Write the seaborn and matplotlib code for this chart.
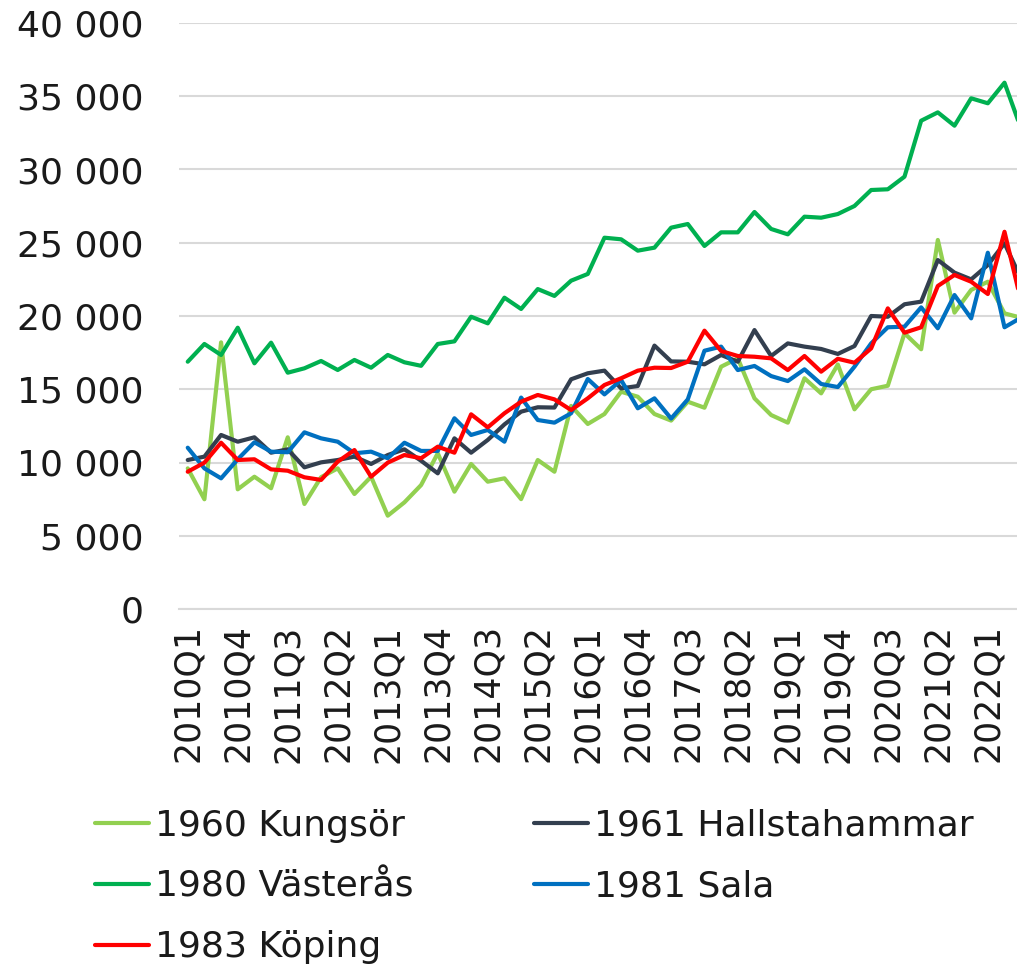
#!/usr/bin/env python3
import pandas as pd
import matplotlib
matplotlib.use("Agg")
import matplotlib.pyplot as plt
import seaborn as sns
from matplotlib.ticker import FuncFormatter

# Quarter labels 2010Q1 .. 2022Q3
quarters = [f"{y}Q{q}" for y in range(2010, 2023) for q in range(1, 5)][:51]

kungsor = [9600, 7490, 18200, 8170, 9030, 8240, 11720, 7170, 9000, 9600,
           7850, 9030, 6370, 7280, 8460, 10630, 8010, 9900, 8690, 8920,
           7500, 10170, 9370, 13860, 12630, 13310, 14830, 14490, 13310, 12860,
           14150, 13740, 16540, 17110, 14380, 13240, 12720, 15750, 14720, 16690,
           13630, 15000, 15240, 18820, 17730, 25190, 20230, 21780, 22340, 20180,
           19880]
hallstahammar = [10170, 10400, 11880, 11420, 11720, 10670, 10900, 9670, 10010, 10170,
                 10400, 9900, 10510, 10900, 10120, 9260, 11650, 10670, 11540, 12600,
                 13470, 13770, 13750, 15680, 16090, 16270, 15060, 15220, 17980, 16900,
                 16880, 16700, 17340, 16880, 19040, 17270, 18130, 17910, 17750, 17410,
                 17950, 20000, 19950, 20800, 20980, 23820, 22960, 22500, 23480, 24960,
                 22530]
vasteras = [16880, 18090, 17340, 19200, 16770, 18180, 16130, 16430, 16930, 16315,
            17000, 16470, 17340, 16840, 16600, 18090, 18270, 19950, 19500, 21250,
            20480, 21840, 21370, 22410, 22870, 25345, 25235, 24460, 24665, 26030,
            26280, 24780, 25710, 25710, 27100, 25940, 25575, 26780, 26710, 26960,
            27510, 28600, 28650, 29510, 33330, 33900, 32990, 34860, 34520, 35925,
            32770]
sala = [11010, 9600, 8920, 10220, 11380, 10740, 10700, 12060, 11650, 11420,
        10630, 10740, 10290, 11350, 10790, 10790, 13020, 11880, 12220, 11420,
        14430, 12900, 12720, 13360, 15700, 14650, 15630, 13700, 14380, 13000,
        14310, 17630, 17910, 16310, 16590, 15900, 15560, 16360, 15360, 15150,
        16540, 18130, 19230, 19270, 20590, 19160, 21430, 19840, 24320, 19230,
        19890]
koping = [9370, 9990, 11350, 10170, 10220, 9530, 9440, 8990, 8810, 10060,
          10850, 9030, 9990, 10510, 10290, 11080, 10670, 13290, 12400, 13360,
          14150, 14610, 14310, 13580, 14380, 15290, 15750, 16270, 16470, 16450,
          16880, 19000, 17610, 17270, 17220, 17110, 16310, 17270, 16200, 17080,
          16810, 17790, 20520, 18860, 19230, 22050, 22800, 22340, 21500, 25750,
          20970]

series_names = ["1960 Kungsör", "1961 Hallstahammar", "1980 Västerås",
                "1981 Sala", "1983 Köping"]
colors = ["#92D050", "#333F4F", "#00B050", "#0070C0", "#FF0000"]

frames = []
for name, vals in zip(series_names, [kungsor, hallstahammar, vasteras, sala, koping]):
    frames.append(pd.DataFrame({"idx": range(len(vals)), "value": vals, "series": name}))
df = pd.concat(frames, ignore_index=True)

sns.set_style("white")
plt.rcParams["font.family"] = ["DejaVu Sans"]
plt.rcParams["font.size"] = 26

fig = plt.figure(figsize=(10.17, 9.66), dpi=100)
ax = fig.add_axes([179.4 / 1017, 1 - 609 / 966, (1017 - 179.4) / 1017, (609 - 23) / 966])

sns.lineplot(data=df, x="idx", y="value", hue="series", hue_order=series_names,
             palette=dict(zip(series_names, colors)), linewidth=3, sort=False,
             ax=ax, solid_joinstyle="round", solid_capstyle="round")

handles, labels = ax.get_legend_handles_labels()
ax.get_legend().remove()

ax.set_xlim(-0.5, 49.75)
ax.set_ylim(0, 40000)
ax.set_yticks(range(0, 40001, 5000))
ax.yaxis.set_major_formatter(FuncFormatter(lambda v, p: f"{int(v):,}".replace(",", " ")))
ax.set_xticks(range(0, 49, 3))
ax.set_xticklabels(quarters[0:49:3], rotation=90)
ax.set_xlabel("")
ax.set_ylabel("")

ax.grid(axis="y", color="#D9D9D9", linewidth=1.5)
ax.grid(axis="x", visible=False)
ax.set_axisbelow(True)
for s in ["top", "right", "left"]:
    ax.spines[s].set_visible(False)
ax.spines["bottom"].set_color("#D9D9D9")
ax.spines["bottom"].set_linewidth(1.5)
ax.tick_params(axis="y", length=0, pad=26, labelsize=26, labelcolor="#1a1a1a")
ax.tick_params(axis="x", length=0, pad=11, labelsize=25, labelcolor="#1a1a1a")

# legend in row order: Kungsör, Hallstahammar / Västerås, Sala / Köping
order = [0, 2, 4, 1, 3]
leg = fig.legend([handles[i] for i in order], [labels[i] for i in order],
                 loc="upper left", bbox_to_anchor=(95 / 1017, 1 - 809 / 966),
                 ncol=2, frameon=False, fontsize=26, handlelength=1.5,
                 handletextpad=0.15, columnspacing=3.35, labelspacing=0.74,
                 borderpad=0, borderaxespad=0)
for line in leg.get_lines():
    line.set_linewidth(3)
for t in leg.get_texts():
    t.set_color("#1a1a1a")

fig.savefig("out.png", dpi=100)
